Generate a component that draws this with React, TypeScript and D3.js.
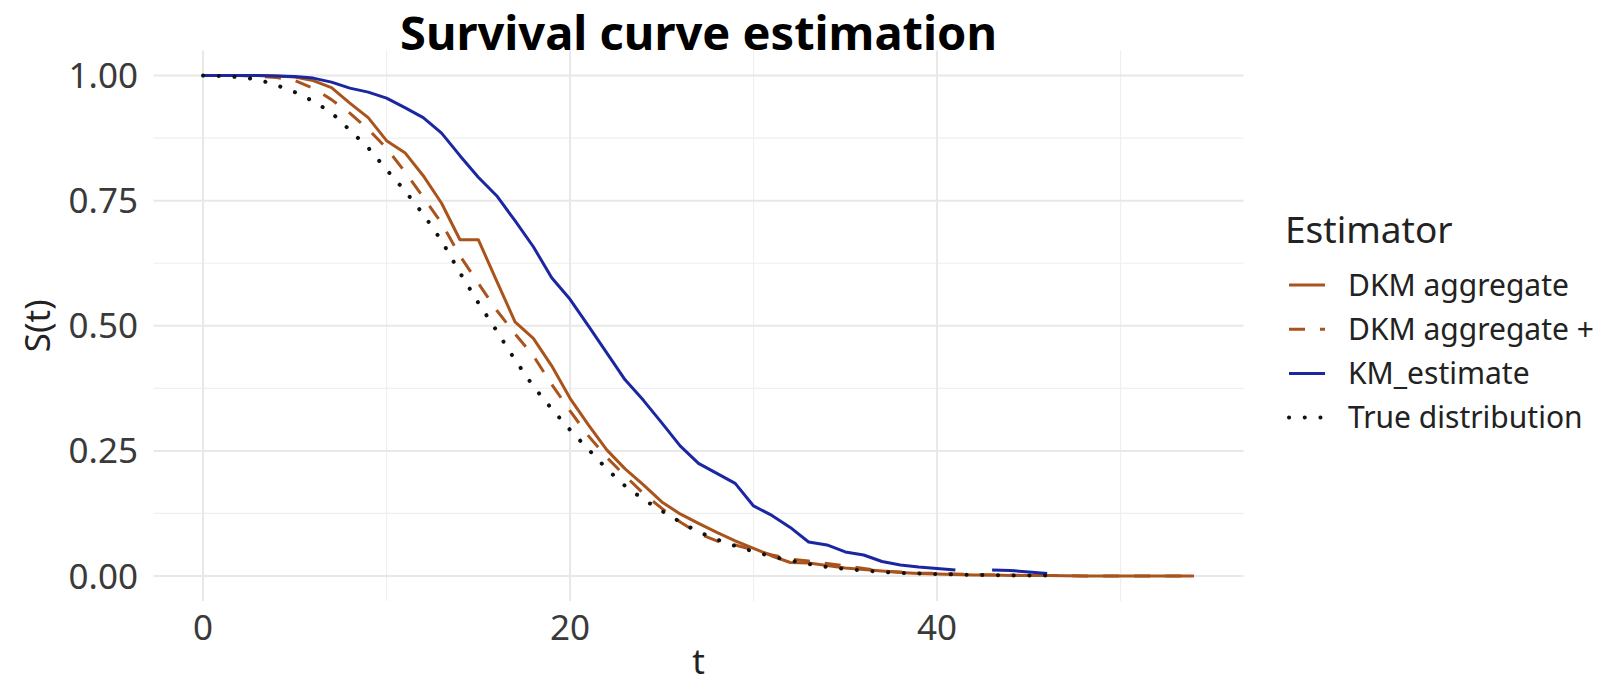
import * as d3 from "d3";

// time grid (t) and estimated survival values
const times = [
  0, 1, 2, 3, 4, 5, 6, 7, 8, 9, 10, 11, 12, 13, 14, 15, 16, 17, 18, 19, 20, 21,
  22, 23, 24, 25, 26, 27, 28, 29, 30, 31, 32, 33, 34, 35, 36, 37, 38, 39, 40,
  41, 42, 43, 44, 45, 46, 47, 48, 49, 50, 51, 52, 53, 54,
];

const dkmAggregate = [
  1, 1, 1, 1, 0.999, 0.997, 0.99, 0.976, 0.945, 0.916, 0.87, 0.846, 0.8, 0.745,
  0.672, 0.672, 0.59, 0.508, 0.475, 0.42, 0.355, 0.302, 0.252, 0.214, 0.182,
  0.148, 0.124, 0.105, 0.087, 0.07, 0.055, 0.04, 0.027, 0.026, 0.021, 0.016,
  0.013, 0.01, 0.007, 0.005, 0.004, 0.003, 0.002, 0.002, 0.001, 0.001, 0.001,
  0.0005, 0, 0, 0, 0, 0, 0, 0,
];

const dkmAggregatePlus = [
  1, 1, 1, 0.999, 0.996, 0.99, 0.975, 0.952, 0.925, 0.893, 0.855, 0.808, 0.757,
  0.705, 0.64, 0.585, 0.531, 0.484, 0.44, 0.383, 0.33, 0.28, 0.237, 0.2, 0.165,
  0.135, 0.108, 0.085, 0.07, 0.062, 0.052, 0.042, 0.034, 0.03, 0.025, 0.02,
  0.015, 0.01, 0.008, 0.006, 0.005, 0.004, 0.003, 0.002, 0.002, 0.001, 0.001,
  0.001, 0, 0, 0, 0, 0, 0, 0,
];

const kmEstimate = [
  1, 1, 1, 1, 0.999, 0.998, 0.995, 0.987, 0.975, 0.967, 0.955, 0.936, 0.916,
  0.885, 0.84, 0.797, 0.76, 0.71, 0.658, 0.596, 0.553, 0.5, 0.446, 0.392,
  0.351, 0.306, 0.26, 0.225, 0.205, 0.185, 0.14, 0.121, 0.097, 0.068, 0.062,
  0.048, 0.042, 0.029, 0.022, 0.018, 0.015, 0.012, null, 0.012, 0.011, 0.008,
  0.005,
];

const trueDistribution = [
  1, 0.999, 0.997, 0.992, 0.981, 0.967, 0.949, 0.926, 0.891, 0.856, 0.812,
  0.77, 0.723, 0.67, 0.606, 0.546, 0.49, 0.432, 0.379, 0.334, 0.292, 0.253,
  0.214, 0.18, 0.153, 0.13, 0.108, 0.088, 0.073, 0.06, 0.049, 0.039, 0.031,
  0.024, 0.018, 0.014, 0.011, 0.008, 0.006, 0.005, 0.004, 0.003, 0.002, 0.002,
  0.001, 0.001, 0.001,
];

const xTicks = [0, 20, 40];
const xMinor = [10, 30, 50];
const yTicks = [0, 0.25, 0.5, 0.75, 1];
const yMinor = [0.125, 0.375, 0.625, 0.875];

const ORANGE = "#a9541d";
const BLUE = "#1b27a0";

const seriesList = [
  { name: "DKM aggregate", values: dkmAggregate, color: ORANGE, dash: null, width: 3, cap: "butt" },
  { name: "DKM aggregate +", values: dkmAggregatePlus, color: ORANGE, dash: "16 15", width: 3, cap: "butt" },
  { name: "KM_estimate", values: kmEstimate, color: BLUE, dash: null, width: 3, cap: "butt" },
  { name: "True distribution", values: trueDistribution, color: "#111", dash: "0.1 15.6", width: 4, cap: "round" },
];

const W = 1602;
const H = 678;
const FONT = "'Noto Sans', 'Open Sans', sans-serif";

export default function App() {
  const x = d3.scaleLinear().domain([-2.7, 56.7]).range([153.5, 1243.5]);
  const y = d3.scaleLinear().domain([-0.05, 1.05]).range([601, 50.6]);
  const [x0, x1] = x.range();
  const [y0, y1] = y.range();

  const makeLine = (vals: (number | null)[]) =>
    d3
      .line<number>()
      .defined((i) => vals[i] !== null)
      .x((i) => x(times[i]))
      .y((i) => y(vals[i] as number))(d3.range(vals.length));

  return (
    <svg width={W} height={H} style={{ position: "absolute", left: 0, top: 0, background: "#fff" }} fontFamily={FONT}>
      {/* grid */}
      {xMinor.map((v) => (
        <line key={"xm" + v} x1={x(v)} x2={x(v)} y1={y0} y2={y1} stroke="#efefef" strokeWidth={1.2} />
      ))}
      {yMinor.map((v) => (
        <line key={"ym" + v} x1={x0} x2={x1} y1={y(v)} y2={y(v)} stroke="#efefef" strokeWidth={1.2} />
      ))}
      {xTicks.map((v) => (
        <line key={"xg" + v} x1={x(v)} x2={x(v)} y1={y0} y2={y1} stroke="#e8e8e8" strokeWidth={2} />
      ))}
      {yTicks.map((v) => (
        <line key={"yg" + v} x1={x0} x2={x1} y1={y(v)} y2={y(v)} stroke="#e8e8e8" strokeWidth={2} />
      ))}

      {/* curves */}
      {seriesList.map((s) => (
        <path
          key={s.name}
          d={makeLine(s.values) || ""}
          fill="none"
          stroke={s.color}
          strokeWidth={s.width}
          strokeDasharray={s.dash || undefined}
          strokeLinecap={s.cap as any}
          strokeLinejoin="round"
        />
      ))}

      {/* axis labels */}
      {xTicks.map((v) => (
        <text key={"xt" + v} x={x(v)} y={640} textAnchor="middle" fontSize={35} fill="#3a3a3a">
          {v}
        </text>
      ))}
      {yTicks.map((v) => (
        <text key={"yt" + v} x={138} y={y(v)} dy="0.36em" textAnchor="end" fontSize={35} fill="#3a3a3a">
          {d3.format(".2f")(v)}
        </text>
      ))}
      <text x={(x0 + x1) / 2} y={674} textAnchor="middle" fontSize={35} fill="#222">
        t
      </text>
      <text
        transform={`translate(50,${(y0 + y1) / 2}) rotate(-90)`}
        textAnchor="middle"
        fontSize={35}
        fill="#222"
      >
        S(t)
      </text>

      {/* title */}
      <text x={(x0 + x1) / 2} y={50} textAnchor="middle" fontSize={47} fontWeight="bold" fill="#000">
        Survival curve estimation
      </text>

      {/* legend */}
      <text x={1285} y={243} fontSize={37} fill="#222">
        Estimator
      </text>
      {seriesList.map((s, i) => {
        const cy = 285 + i * 44.2;
        return (
          <g key={"lg" + s.name}>
            <line
              x1={1289}
              x2={1325}
              y1={cy}
              y2={cy}
              stroke={s.color}
              strokeWidth={s.width}
              strokeDasharray={s.dash || undefined}
              strokeLinecap={s.cap as any}
            />
            <text x={1348} y={cy} dy="0.36em" fontSize={30} fill="#222">
              {s.name}
            </text>
          </g>
        );
      })}
    </svg>
  );
}
